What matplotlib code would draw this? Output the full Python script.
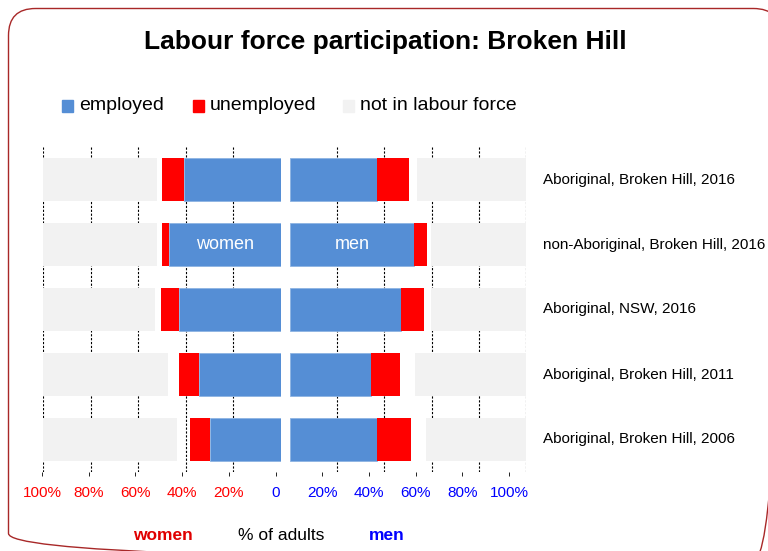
import numpy as np
import matplotlib.pyplot as plt
from matplotlib.patches import FancyBboxPatch

plt.rcParams['font.family'] = ['Liberation Sans', 'DejaVu Sans']

categories = ['Aboriginal, Broken Hill, 2016', 'non-Aboriginal, Broken Hill, 2016',
              'Aboriginal, NSW, 2016', 'Aboriginal, Broken Hill, 2011',
              'Aboriginal, Broken Hill, 2006']
women_employed = [40.9, 46.9, 43.0, 34.5, 29.8]
women_unemployed = [9.0, 3.2, 7.3, 8.4, 8.6]
women_nilf = [47.8, 47.8, 47.2, 52.4, 56.2]
men_employed = [36.7, 52.5, 47.0, 34.3, 37.0]
men_unemployed = [13.7, 5.4, 9.6, 12.2, 14.3]
men_nilf = [46.3, 40.4, 40.4, 47.0, 42.5]
grid_ticks = [20, 40, 60, 80, 100]
axis_ticks = [-100, -80, -60, -40, -20, 0, 20, 40, 60, 80, 100]
axis_labels = ['100%', '80%', '60%', '40%', '20%', '0', '20%', '40%', '60%', '80%', '100%']

c_emp = '#558ED5'
c_unemp = '#FF0000'
c_nilf = '#F2F2F2'

W, H = 768, 551
fig = plt.figure(figsize=(W / 100, H / 100), dpi=100)

# background axes in pixel units for the rounded border
bg = fig.add_axes([0, 0, 1, 1])
bg.set_xlim(0, W)
bg.set_ylim(H, 0)
bg.axis('off')
bg.add_patch(FancyBboxPatch((8.5, 8.5), 772, 552,
                            boxstyle='round,pad=0,rounding_size=27',
                            fill=False, edgecolor='#A82828', linewidth=1.0))

ybot = 1 - 472 / H
yh = (472 - 147) / H
axL = fig.add_axes([43 / W, ybot, 238 / W, yh])
axR = fig.add_axes([290 / W, ybot, 236 / W, yh])

y = np.arange(len(categories))
h = 0.667

for ax, emp, une, nilf in [(axL, women_employed, women_unemployed, women_nilf),
                           (axR, men_employed, men_unemployed, men_nilf)]:
    emp = np.array(emp)
    une = np.array(une)
    nilf = np.array(nilf)
    for t in grid_ticks:
        ax.axvline(t, color='black', lw=0.8, ls=(0, (2, 1.5)), zorder=0)
    ax.barh(y, nilf, left=100 - nilf, height=h, color=c_nilf, zorder=2)
    ax.barh(y, emp, left=0, height=h, color=c_emp, edgecolor='#8DB3E2',
            linewidth=0.6, zorder=2)
    ax.barh(y, une, left=emp, height=h, color=c_unemp, zorder=2)
    ax.set_ylim(4.5, -0.5)
    ax.set_yticks([])
    ax.set_xticks([])
    ax.patch.set_alpha(0)
    for s in ax.spines.values():
        s.set_visible(False)

axL.set_xlim(100, 0)
axR.set_xlim(0, 100)

# bottom percentage axis
axB = fig.add_axes([42 / W, ybot, 467 / W, 0.001])
axB.set_xlim(-100, 100)
axB.set_yticks([])
for s in axB.spines.values():
    s.set_visible(False)
axB.patch.set_alpha(0)
axB.set_xticks(axis_ticks)
axB.set_xticklabels(axis_labels)
axB.tick_params(axis='x', length=3, width=0.6, pad=7, labelsize=11)
for t, lab in zip(axis_ticks, axB.get_xticklabels()):
    lab.set_color('#FF0000' if t < 0 else '#0000FF')

axL.text(women_employed[1] / 2, 1, 'women', color='white', fontsize=13,
         ha='center', va='center', zorder=3)
axR.text(men_employed[1] / 2, 1, 'men', color='white', fontsize=13,
         ha='center', va='center', zorder=3)

for i, c in enumerate(categories):
    axR.text(107, i, c, ha='left', va='center', fontsize=11, clip_on=False)

fig.text(385 / W, 1 - 42 / H, 'Labour force participation: Broken Hill',
         ha='center', va='center', fontsize=19, fontweight='bold')

# legend
leg = [('employed', c_emp, 62), ('unemployed', c_unemp, 193), ('not in labour force', c_nilf, 343)]
for lab, col, x in leg:
    fig.patches.append(plt.Rectangle((x / W, 1 - 112 / H), 11 / W, 12 / H,
                                     transform=fig.transFigure, color=col))
    fig.text((x + 17) / W, 1 - 106 / H, lab, ha='left', va='center', fontsize=14)

fig.text(163 / W, 1 - 535 / H, 'women', color='#E00000', fontsize=12.5,
         fontweight='bold', ha='center', va='center')
fig.text(281 / W, 1 - 535 / H, '% of adults', color='black', fontsize=12.5,
         ha='center', va='center')
fig.text(387 / W, 1 - 535 / H, 'men', color='#0000FF', fontsize=12.5,
         fontweight='bold', ha='center', va='center')

fig.savefig('out.png', dpi=100)
